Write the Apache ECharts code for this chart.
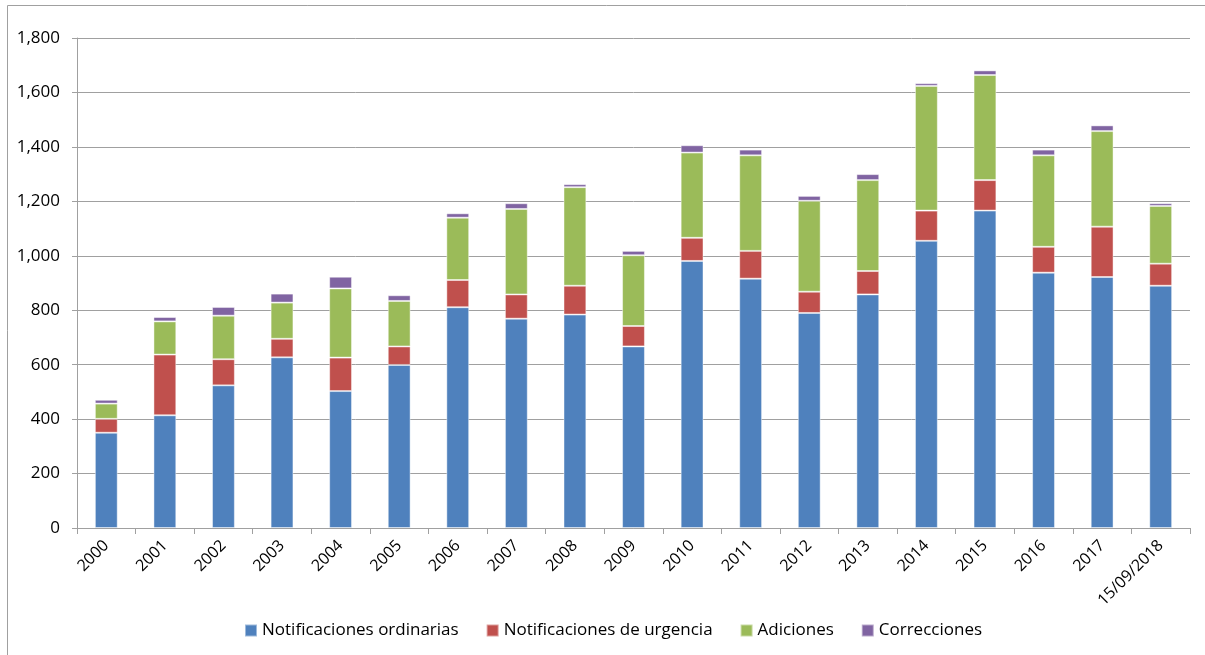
<!DOCTYPE html>
<html>
<head>
<meta charset="utf-8">
<script src="https://cdn.jsdelivr.net/npm/echarts@6/dist/echarts.min.js"></script>
<style>
html,body{margin:0;padding:0;background:#fff;}
#c{width:1205px;height:655px;}
</style>
</head>
<body>
<div id="c"></div>
<script>
const categories = ['2000','2001','2002','2003','2004','2005','2006','2007','2008','2009','2010','2011','2012','2013','2014','2015','2016','2017','15/09/2018'];
const ordinarias = [350,414,524,627,503,599,811,769,784,667,981,916,790,858,1055,1166,938,922,890];
const urgencia   = [51,223,96,68,123,68,100,89,106,75,85,102,78,86,111,112,95,185,81];
const adiciones  = [56,122,160,133,254,167,229,314,362,260,313,351,334,334,458,386,336,351,212];
const correcciones = [14,16,32,33,43,21,16,21,11,16,27,21,18,22,10,17,21,21,10];
const seriesNames = ['Notificaciones ordinarias','Notificaciones de urgencia','Adiciones','Correcciones'];
const yTicks = {min:0, max:1800, interval:200};

const chart = echarts.init(document.getElementById('c'), null, {renderer:'canvas'});
const font = 'Open Sans, Noto Sans, sans-serif';
const colors = ['#4F81BD','#C0504D','#9BBB59','#8064A2'];
const datas = [ordinarias, urgencia, adiciones, correcciones];
chart.setOption({
  animation:false,
  color: colors,
  graphic:[{type:'rect',shape:{x:7.5,y:5.5,width:1220,height:700},style:{fill:'none',stroke:'#A0A0A0',lineWidth:1},silent:true}],
  grid:{left:77,right:15,top:38,bottom:127,containLabel:false},
  legend:{
    top:617, left:239,
    itemWidth:12,itemHeight:12,itemGap:27,
    icon:'rect',
    textStyle:{fontFamily:font,fontSize:17,color:'#000'},
    data: seriesNames
  },
  xAxis:{
    type:'category', data:categories,
    axisLine:{lineStyle:{color:'#A0A0A0',width:1}},
    axisTick:{show:true,alignWithLabel:false,length:6,lineStyle:{color:'#A0A0A0'}},
    axisLabel:{rotate:45,fontFamily:font,fontSize:16,color:'#000',margin:15,interval:0}
  },
  yAxis:{
    type:'value', min:yTicks.min, max:yTicks.max, interval:yTicks.interval,
    axisLine:{show:true,lineStyle:{color:'#A0A0A0',width:1}},
    axisTick:{show:true,inside:false,length:5,lineStyle:{color:'#A0A0A0'}},
    splitLine:{lineStyle:{color:'#A0A0A0',width:1}},
    axisLabel:{fontFamily:font,fontSize:17,color:'#000',margin:17,
      formatter:v=>v.toLocaleString('en-US')}
  },
  series: seriesNames.map((n,i)=>({
    name:n, type:'bar', stack:'total', data:datas[i],
    barWidth:'39%',
    itemStyle:{color:colors[i],borderColor:'rgba(255,255,255,0.45)',borderWidth:1}
  }))
});
</script>
</body>
</html>
